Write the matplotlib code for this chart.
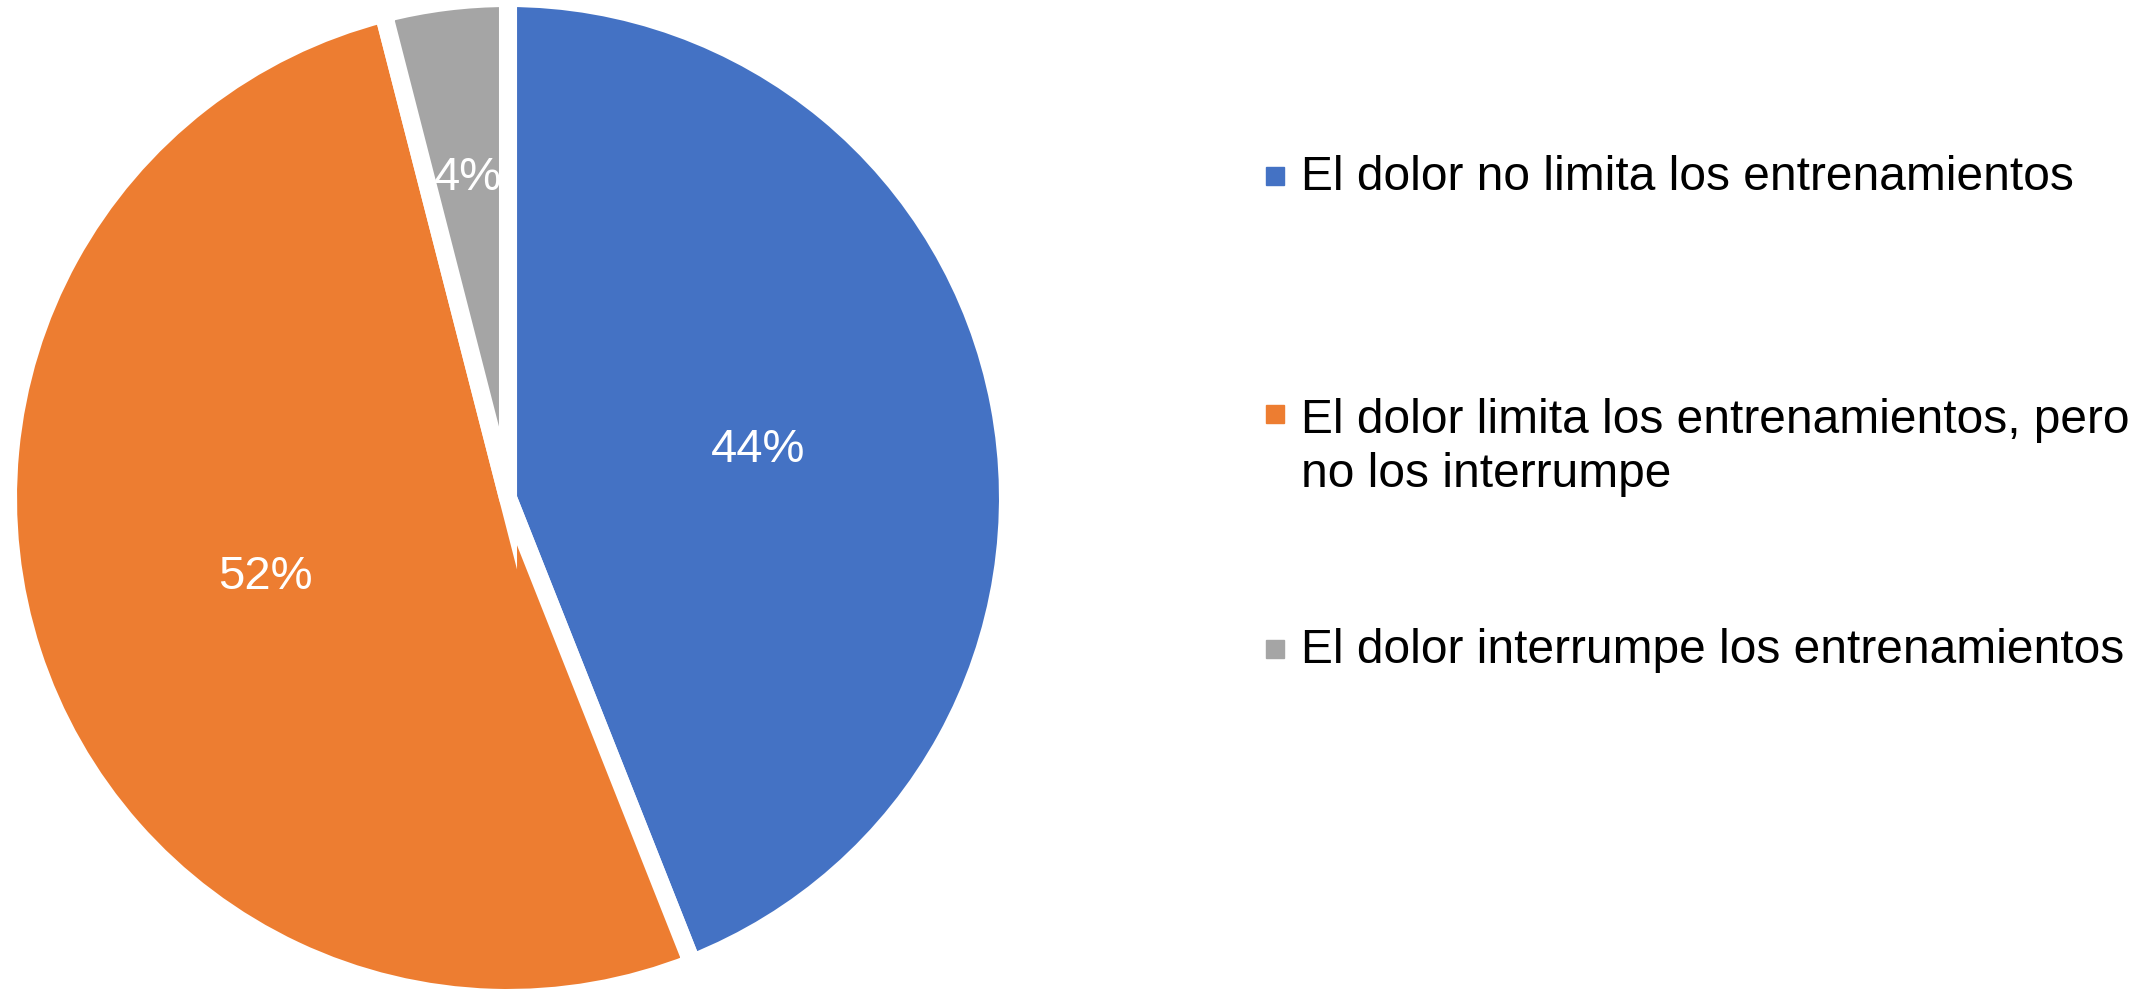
import matplotlib
matplotlib.use("Agg")
import matplotlib.pyplot as plt
from matplotlib.patches import Rectangle
import numpy as np

plt.rcParams['font.family'] = ['Liberation Sans', 'DejaVu Sans']

categories = [
    "El dolor no limita los entrenamientos",
    "El dolor limita los entrenamientos, pero\nno los interrumpe",
    "El dolor interrumpe los entrenamientos",
]
values = [44, 52, 4]
pct_labels = ["44%", "52%", "4%"]
colors = ["#4472C4", "#ED7D31", "#A5A5A5"]

W, H = 2129, 997
fig = plt.figure(figsize=(W / 100, H / 100), dpi=100)

# pie axes, in pixels: centre (508, 498 from top), radius 500
cx, cy, r = 508, 498, 500
ax = fig.add_axes([(cx - r) / W, (H - cy - r) / H, 2 * r / W, 2 * r / H])
wedges, _ = ax.pie(values, colors=colors, startangle=90, counterclock=False,
                   radius=1, wedgeprops=dict(edgecolor="white", linewidth=13))
ax.set_xlim(-1, 1)
ax.set_ylim(-1, 1)
ax.set_aspect("equal")
ax.axis("off")

# percentage labels at the middle angle of each wedge
dists = [0.51, 0.51, 0.645]
for w, txt, d in zip(wedges, pct_labels, dists):
    ang = np.deg2rad((w.theta1 + w.theta2) / 2)
    ax.text(d * np.cos(ang), d * np.sin(ang), txt, color="white",
            fontsize=34, ha="center", va="center")

# legend drawn by hand so the marker sits on the first line
top_lines = [190, 428, 663]   # baseline of first line (px from top)
line_gap = 59
for lab, col, yb in zip(categories, colors, top_lines):
    n = lab.count("\n")
    fig.text(1301 / W, 1 - (yb + n * line_gap) / H, lab, fontsize=34.5,
             va="baseline", ha="left", linespacing=1.25)
    fig.add_artist(Rectangle(((1275 - 9) / W, 1 - (yb - 14 + 9) / H),
                             18 / W, 18 / H, color=col,
                             transform=fig.transFigure))

fig.savefig("out.png", dpi=100)
